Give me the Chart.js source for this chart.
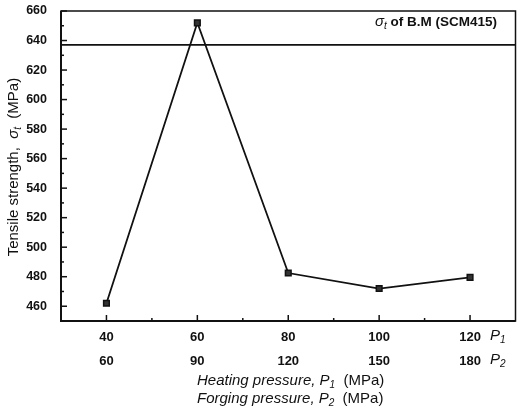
<!DOCTYPE html>
<html>
<head>
<meta charset="utf-8">
<script src="https://cdn.jsdelivr.net/npm/chart.js@4/dist/chart.umd.min.js"></script>
<style>
  body { margin: 0; background: #fff; }
  canvas { display: block; }
</style>
</head>
<body>
<canvas id="chart" width="521" height="411"></canvas>
<script>
// values
const heatingPressure = [40, 60, 80, 100, 120]      // P1 (MPa)
const forgingPressure = [60, 90, 120, 150, 180]     // P2 (MPa)
const tensileStrength = [462, 652, 482.5, 472, 479.5] // sigma_t (MPa)
const baseMetalStrength = 637                        // sigma_t of B.M (SCM415)
const xRange = [30, 130]
const yRange = [450, 660]

const INK = '#111'
const FONT = '"Liberation Sans", Arial, sans-serif'

/** draw text with an italic symbol + subscript */
function symbolText(ctx, x, y, sym, sub, size) {
    ctx.font = `italic ${size}px ${FONT}`
    ctx.fillText(sym, x, y)
    let w = ctx.measureText(sym).width
    ctx.font = `italic ${Math.round(size * 0.65)}px ${FONT}`
    ctx.fillText(sub, x + w, y + size * 0.3)
    return w + ctx.measureText(sub).width
}

const decor = {
    id: 'decor',
    afterDraw(chart) {
        const ctx = chart.ctx
        const a = chart.chartArea
        const xs = chart.scales.x
        const ys = chart.scales.y
        ctx.save()
        ctx.strokeStyle = INK
        ctx.fillStyle = INK

        // frame
        ctx.lineWidth = 1.5
        ctx.strokeRect(a.left, a.top, a.right - a.left, a.bottom - a.top)
        ctx.lineWidth = 2
        ctx.beginPath()
        ctx.moveTo(a.left, a.top)
        ctx.lineTo(a.left, a.bottom)
        ctx.lineTo(a.right, a.bottom)
        ctx.stroke()

        // inward tick marks
        ctx.lineWidth = 1.5
        for (let v = yRange[0]; v <= yRange[1]; v += 10) {
            const py = ys.getPixelForValue(v)
            const len = v % 20 === 0 ? 6 : 3
            ctx.beginPath()
            ctx.moveTo(a.left, py)
            ctx.lineTo(a.left + len, py)
            ctx.stroke()
        }
        for (let v = 40; v <= 120; v += 10) {
            const px = xs.getPixelForValue(v)
            const len = v % 20 === 0 ? 6 : 3
            ctx.beginPath()
            ctx.moveTo(px, a.bottom)
            ctx.lineTo(px, a.bottom - len)
            ctx.stroke()
        }

        // P1 / P2 row markers
        ctx.textAlign = 'left'
        ctx.textBaseline = 'middle'
        symbolText(ctx, 490, 336, 'P', '1', 15)
        symbolText(ctx, 490, 360, 'P', '2', 15)

        // x axis titles
        const cx = 197
        let w = 0
        ctx.font = `italic 15px ${FONT}`
        ctx.fillText('Heating pressure, ', cx, 381)
        w = ctx.measureText('Heating pressure, ').width
        w += symbolText(ctx, cx + w, 381, 'P', '1', 15)
        ctx.font = `15px ${FONT}`
        ctx.fillText('  (MPa)', cx + w, 381)

        ctx.font = `italic 15px ${FONT}`
        ctx.fillText('Forging pressure, ', cx, 399)
        w = ctx.measureText('Forging pressure, ').width
        w += symbolText(ctx, cx + w, 399, 'P', '2', 15)
        ctx.font = `15px ${FONT}`
        ctx.fillText('  (MPa)', cx + w, 399)

        // y axis title
        ctx.save()
        ctx.translate(14, (a.top + a.bottom) / 2)
        ctx.rotate(-Math.PI / 2)
        const t1 = 'Tensile strength,  '
        const t2 = '  (MPa)'
        ctx.font = `15px ${FONT}`
        let total = ctx.measureText(t1).width + ctx.measureText(t2).width + 14
        let sx = -total / 2
        ctx.fillText(t1, sx, 0)
        sx += ctx.measureText(t1).width
        sx += symbolText(ctx, sx, 0, 'σ', 't', 15)
        ctx.font = `15px ${FONT}`
        ctx.fillText(t2, sx, 0)
        ctx.restore()

        // base metal label
        let lx = 375
        lx += symbolText(ctx, lx, 22, 'σ', 't', 15)
        ctx.font = `bold 13.5px ${FONT}`
        ctx.fillText(' of B.M (SCM415)', lx, 22)

        ctx.restore()
    }
}

new Chart(document.getElementById('chart'), {
    type: 'line',
    data: {
        datasets: [{
            data: heatingPressure.map((p, i) => ({ x: p, y: tensileStrength[i] })),
            borderColor: INK,
            borderWidth: 1.8,
            pointStyle: 'rect',
            pointRadius: 4,
            pointBackgroundColor: '#333',
            pointBorderColor: INK,
            pointBorderWidth: 1.5,
            tension: 0
        }, {
            data: xRange.map(x => ({ x: x, y: baseMetalStrength })),
            borderColor: INK,
            borderWidth: 1.8,
            pointRadius: 0
        }]
    },
    options: {
        responsive: false,
        animation: false,
        devicePixelRatio: 1,
        layout: { padding: { top: 11, right: -2, left: 0, bottom: 0 } },
        plugins: { legend: { display: false }, tooltip: { enabled: false } },
        scales: {
            x: {
                type: 'linear',
                min: xRange[0],
                max: xRange[1],
                grid: { display: false },
                border: { display: false },
                afterFit: s => { s.height = 90; s.paddingLeft = 0; s.paddingRight = 0 },
                ticks: {
                    stepSize: 10,
                    autoSkip: false,
                    maxRotation: 0,
                    padding: -4,
                    color: INK,
                    font: { family: FONT, size: 13, weight: 'bold', lineHeight: 1.85 },
                    callback: v => {
                        const i = heatingPressure.indexOf(v)
                        return i < 0 ? '' : [String(v), String(forgingPressure[i])]
                    }
                }
            },
            y: {
                min: yRange[0],
                max: yRange[1],
                grid: { display: false },
                border: { display: false },
                afterFit: s => { s.width = 61; s.paddingTop = 0; s.paddingBottom = 0 },
                ticks: {
                    stepSize: 10,
                    autoSkip: false,
                    padding: 6,
                    color: INK,
                    font: { family: FONT, size: 12.5, weight: 'bold' },
                    callback: v => (v % 20 === 0 ? v : '')
                }
            }
        }
    },
    plugins: [decor]
})
</script>
</body>
</html>
